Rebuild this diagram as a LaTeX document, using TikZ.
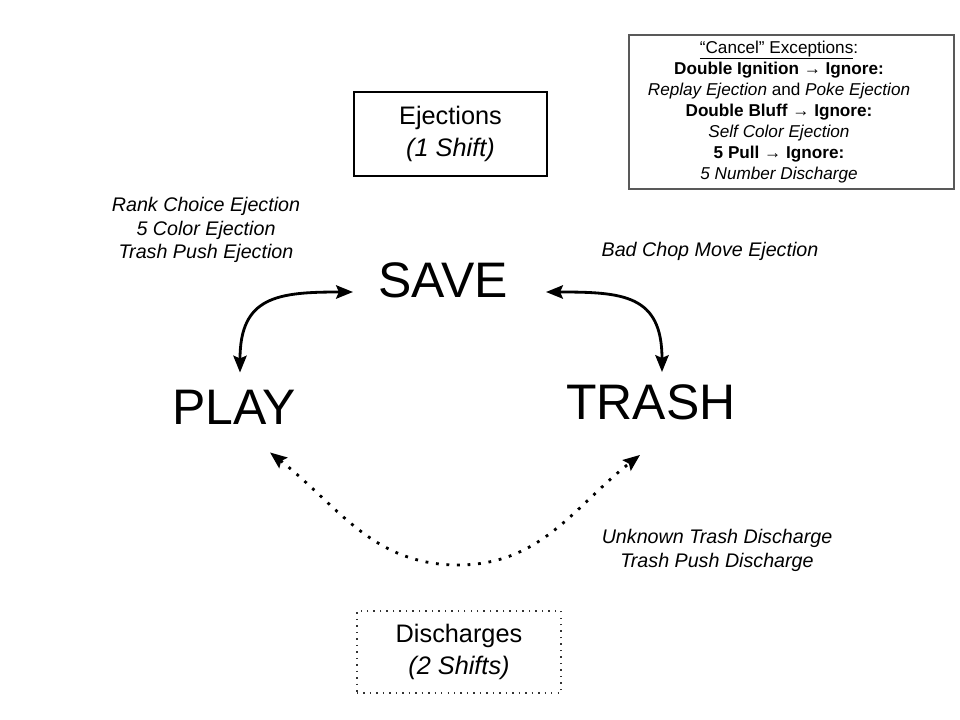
\documentclass[tikz,border=0pt]{standalone}
\usepackage{fontspec}
\setmainfont{Liberation Sans}
\usetikzlibrary{arrows.meta, positioning}

\begin{document}
\begin{tikzpicture}[x=0.025cm, y=-0.025cm, >={Stealth[length=12pt, width=9.5pt, inset=2pt]}]
      \useasboundingbox (0,0) rectangle (960,720);

      % Define the style for the states
      \tikzstyle{state}=[inner sep=0pt, font=\fontsize{35.5}{42}\selectfont]

      % States
      \node[state] (save) at (443,280) {SAVE};
      \node[state] (play) at (234,407) {PLAY};
      \node[state] (trash) at (651,402) {TRASH};

      % Define the style for the shift boxes
      \tikzstyle{shiftbox}=[draw, line width=1pt, align=center, font=\fontsize{18}{22.5}\selectfont]

      % Shift boxes
      \node[shiftbox, minimum width=4.825cm, minimum height=2.1cm] (ejections) at (450.5,134) {Ejections\\\textit{(1 Shift)}};
      \node[shiftbox, draw=black!80, dash pattern=on 1pt off 3.6pt, minimum width=5.1cm, minimum height=2.05cm] (discharges) at (459,652) {Discharges\\\textit{(2 Shifts)}};

      % Exceptions
      \node[draw=black!65, line width=0.8pt, minimum width=8.125cm, minimum height=3.85cm] (exceptions) at (791.5,112) {};
      \node[align=center, font=\fontsize{12.2}{15}\selectfont] (exceptionlist) at (779,112)
        {\underline{“Cancel” Exceptions}:\\
         \textbf{Double Ignition → Ignore:}\\
         \textit{Replay Ejection} and \textit{Poke Ejection}\\
         \textbf{Double Bluff → Ignore:}\\
         \textit{Self Color Ejection}\\
         \textbf{5 Pull → Ignore:}\\
         \textit{5 Number Discharge}};

      % Define the style for the move labels
      \tikzstyle{moves}=[align=center, font=\fontsize{14}{17}\selectfont\itshape]

      % Move labels
      \node[moves] (savemoves) at (206,230) {Rank Choice Ejection\\5 Color Ejection\\Trash Push Ejection};
      \node[moves] (chopmoves) at (710,251) {Bad Chop Move Ejection};
      \node[moves] (trashmoves) at (717,550) {Unknown Trash Discharge\\Trash Push Discharge};

      % Define the style for the edges
      \tikzstyle{edge}=[draw, line width=2pt, <->]
      \tikzstyle{dotedge}=[draw, line width=2pt, dash pattern=on 2pt off 5.5pt, <->]

      % Edges
      \draw[edge] ([shift={(-25,12)}]save.west) to[out=180, in=90, looseness=1.4] ([shift={(6,-17)}]play.north);
      \draw[edge] ([shift={(38,12)}]save.east) to[out=0, in=90, looseness=1.4] ([shift={(11,-12)}]trash.north);
      \coordinate (dip) at (458,565);
      \draw[dotedge] ([shift={(36,28)}]play.south) to[out=-38, in=180] (dip) to[out=0, in=-142] ([shift={(-11,35)}]trash.south);

    \end{tikzpicture}
\end{document}
